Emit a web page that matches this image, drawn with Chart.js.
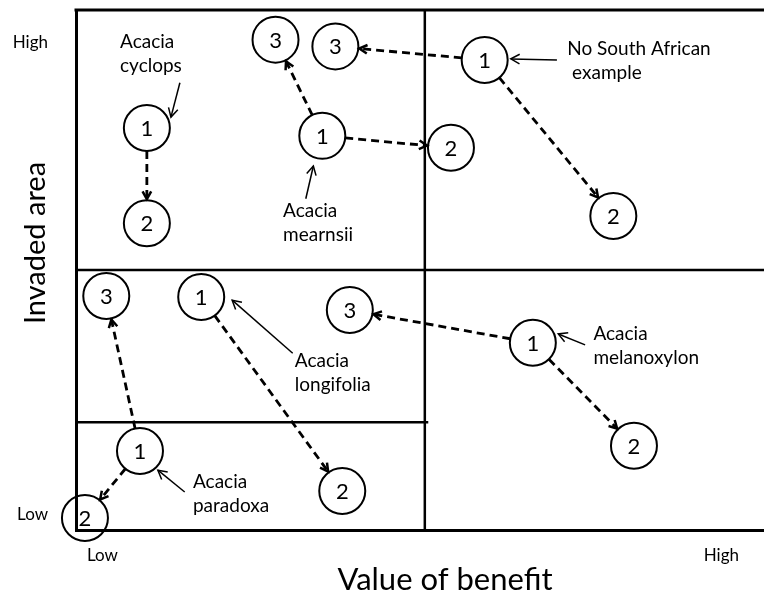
<!DOCTYPE html>
<html><head><meta charset="utf-8">
<script src="https://cdn.jsdelivr.net/npm/chart.js@4"></script>
<style>html,body{margin:0;padding:0;background:#fff}#wrap{width:764px;height:598px}</style>
</head><body><div id="wrap"><canvas id="c" width="764" height="598"></canvas></div>
<script>
// ---- data (x: value of benefit 0-100, y: invaded area 0-100) ----
const circleSpecies = ['cyclops','cyclops','mearnsii','mearnsii','mearnsii','none','none','none','longifolia','longifolia','paradoxa','paradoxa','paradoxa','melanoxylon','melanoxylon','melanoxylon'];
const circleStage   = ['1','2','1','3','2','1','3','2','1','2','1','3','2','1','3','2'];
const circleX       = [10.3,10.3,35.8,29.0,54.5,59.4,37.7,78.1,18.2,38.7,9.3,4.4,1.3,66.4,39.8,81.1];
const circleY       = [77.3,59.0,75.8,94.3,73.5,90.4,93.0,60.4,44.8,7.5,15.2,45.0,2.3,36.0,42.3,16.2];

// trajectories: index of start circle -> index of end circle
const arrowFrom = [0,2,2,5,5,8,10,10,13,13];
const arrowTo   = [1,3,4,6,7,9,11,12,14,15];

// annotation labels
const noteText  = [['Acacia','cyclops'],['Acacia','mearnsii'],['No South African',' example'],['Acacia','longifolia'],['Acacia','melanoxylon'],['Acacia','paradoxa']];
const noteX     = [6.4,30.1,71.4,31.8,75.2,17.0];
const noteY     = [92.7,60.2,91.4,31.4,36.5,8.1];
const pointerX0 = [15.1,33.4,69.9,31.5,74.0,15.8];
const pointerY0 = [86.0,63.7,90.4,34.0,35.6,7.3];
const pointerX1 = [13.8,34.5,63.2,22.7,70.1,11.9];
const pointerY1 = [79.4,70.0,90.6,44.2,37.7,11.5];

// quadrant dividers
const dividerVX = [50.7];
const dividerHY = [50.0, 20.7];
const dividerHEnd = [100, 51.2];

// tick labels
const xTickLabels = ['Low','High'];
const xTickValues = [3.85, 93.8];
const yTickLabels = ['Low','High'];
const yTickValues = [3.0, 93.8];

const xTitle = 'Value of benefit';
const yTitle = 'Invaded area';

// ---- drawing ----
const FONT = 'Lato, "Open Sans", sans-serif';
const R = 23;

function head(ctx, x1, y1, x2, y2, len) {
  const a = Math.atan2(y2 - y1, x2 - x1);
  ctx.beginPath();
  ctx.moveTo(x2 - len * Math.cos(a - 0.5), y2 - len * Math.sin(a - 0.5));
  ctx.lineTo(x2, y2);
  ctx.lineTo(x2 - len * Math.cos(a + 0.5), y2 - len * Math.sin(a + 0.5));
  ctx.stroke();
}

const diagram = {
  id: 'diagram',
  beforeDatasetsDraw(chart) {
    const {ctx, chartArea: ca, scales: {x, y}} = chart;
    ctx.save();
    ctx.strokeStyle = '#000';
    // top border
    ctx.lineWidth = 3;
    ctx.beginPath(); ctx.moveTo(ca.left - 1.5, ca.top); ctx.lineTo(ca.right, ca.top); ctx.stroke();
    ctx.lineWidth = 2.5;
    dividerVX.forEach(v => {
      const px = x.getPixelForValue(v);
      ctx.beginPath(); ctx.moveTo(px, ca.top); ctx.lineTo(px, ca.bottom); ctx.stroke();
    });
    dividerHY.forEach((v, i) => {
      const py = y.getPixelForValue(v);
      ctx.beginPath(); ctx.moveTo(ca.left, py); ctx.lineTo(x.getPixelForValue(dividerHEnd[i]), py); ctx.stroke();
    });
    ctx.restore();
  },
  afterDatasetsDraw(chart) {
    const {ctx, scales: {x, y}} = chart;
    ctx.save();
    ctx.strokeStyle = '#000';
    ctx.fillStyle = '#000';
    ctx.lineCap = 'butt';
    // dashed trajectories
    arrowFrom.forEach((f, i) => {
      const t = arrowTo[i];
      const ax = x.getPixelForValue(circleX[f]), ay = y.getPixelForValue(circleY[f]);
      const bx = x.getPixelForValue(circleX[t]), by = y.getPixelForValue(circleY[t]);
      const d = Math.hypot(bx - ax, by - ay), ux = (bx - ax) / d, uy = (by - ay) / d;
      const sx = ax + ux * R, sy = ay + uy * R, ex = bx - ux * (R + 1), ey = by - uy * (R + 1);
      ctx.lineWidth = 2.8;
      ctx.setLineDash([8, 5]);
      ctx.beginPath(); ctx.moveTo(sx, sy); ctx.lineTo(ex, ey); ctx.stroke();
      ctx.setLineDash([]);
      ctx.lineWidth = 2.5;
      head(ctx, sx, sy, ex, ey, 9);
    });
    // stage numbers
    ctx.font = '22px ' + FONT;
    ctx.textAlign = 'center';
    ctx.textBaseline = 'middle';
    circleStage.forEach((s, i) => {
      ctx.fillText(s, x.getPixelForValue(circleX[i]), y.getPixelForValue(circleY[i]) + 1);
    });
    // annotations
    ctx.font = '19px ' + FONT;
    ctx.textAlign = 'left';
    ctx.textBaseline = 'alphabetic';
    noteText.forEach((lines, i) => {
      const tx = x.getPixelForValue(noteX[i]), ty = y.getPixelForValue(noteY[i]);
      lines.forEach((l, j) => ctx.fillText(l, tx, ty + j * 24));
      const p0x = x.getPixelForValue(pointerX0[i]), p0y = y.getPixelForValue(pointerY0[i]);
      const p1x = x.getPixelForValue(pointerX1[i]), p1y = y.getPixelForValue(pointerY1[i]);
      ctx.lineWidth = 1.5;
      ctx.beginPath(); ctx.moveTo(p0x, p0y); ctx.lineTo(p1x, p1y); ctx.stroke();
      head(ctx, p0x, p0y, p1x, p1y, 10);
    });
    // axis titles
    ctx.textAlign = 'center';
    ctx.textBaseline = 'middle';
    ctx.font = '31px ' + FONT;
    ctx.fillText(xTitle, 445, 580);
    ctx.font = '29px ' + FONT;
    ctx.translate(36, 243);
    ctx.rotate(-Math.PI / 2);
    ctx.fillText(yTitle, 0, 0);
    ctx.restore();
  }
};

new Chart(document.getElementById('c'), {
  type: 'scatter',
  data: {
    datasets: [{
      data: circleX.map((v, i) => ({x: v, y: circleY[i]})),
      pointRadius: R,
      pointHoverRadius: R,
      pointBorderWidth: 2,
      pointBorderColor: '#000',
      pointBackgroundColor: 'rgba(0,0,0,0)',
      clip: false
    }]
  },
  plugins: [diagram],
  options: {
    responsive: false,
    animation: false,
    events: [],
    layout: {autoPadding: false, padding: {top: 10, left: 0, right: 0, bottom: 0}},
    plugins: {legend: {display: false}, tooltip: {enabled: false}},
    scales: {
      x: {
        type: 'linear', min: 0, max: 100,
        grid: {display: false, drawTicks: false},
        border: {display: true, color: '#000', width: 3},
        afterBuildTicks: s => { s.ticks = xTickValues.map(v => ({value: v})); },
        afterFit: s => { s.height = 68; s.paddingLeft = 0; s.paddingRight = 0; },
        ticks: {autoSkip: false, maxRotation: 0, padding: 15, color: '#000',
          font: {family: FONT, size: 17},
          callback: (v, i) => xTickLabels[i]}
      },
      y: {
        type: 'linear', min: 0, max: 100,
        grid: {display: false, drawTicks: false},
        border: {display: true, color: '#000', width: 3},
        afterBuildTicks: s => { s.ticks = yTickValues.map(v => ({value: v})); },
        afterFit: s => { s.width = 76; s.paddingTop = 0; s.paddingBottom = 0; },
        ticks: {autoSkip: false, padding: 28, color: '#000',
          font: {family: FONT, size: 17},
          callback: (v, i) => yTickLabels[i]}
      }
    }
  }
});
</script>
</body></html>
